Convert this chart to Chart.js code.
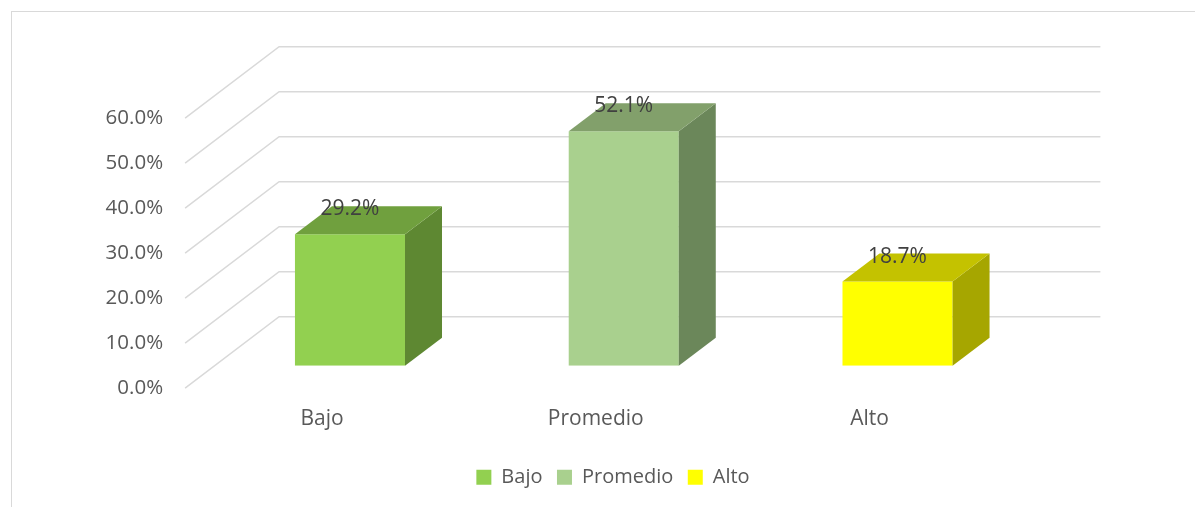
<!DOCTYPE html>
<html>
<head>
<meta charset="utf-8">
<script src="https://cdn.jsdelivr.net/npm/chart.js@4.4.1/dist/chart.umd.min.js"></script>
<style>
    html, body { margin: 0; padding: 0; background: #ffffff; }
    #wrap { position: relative; width: 1195px; height: 507px; }
</style>
</head>
<body>
<div id="wrap"><canvas id="chartNivel"></canvas></div>
<script>
const categories = ['Bajo', 'Promedio', 'Alto'];
const values = [29.2, 52.1, 18.7];
const yTicks = [0, 10, 20, 30, 40, 50, 60];

const frontColors = ['#92D050', '#A9D08E', '#FFFF00'];
const topColors = ['#70A03E', '#82A06B', '#C4C200'];
const sideColors = ['#5E8832', '#6B875A', '#A6A600'];

// depth offsets (px) relative to the plane of the bar fronts
const front = { dx: -28, dy: 22.5 };
const back = { dx: 66, dy: -49 };
const barDepth = { dx: 37, dy: -28 };

const textFont = "'Open Sans', 'DejaVu Sans', sans-serif";

const frame3d = {
    id: 'frame3d',
    beforeDraw(chart) {
        const ctx = chart.ctx;
        ctx.save();
        ctx.strokeStyle = '#D9D9D9';
        ctx.lineWidth = 1;
        ctx.strokeRect(11.5, 11.5, 1400, 700);
        ctx.restore();
    },
    beforeDatasetsDraw(chart) {
        const ctx = chart.ctx;
        const area = chart.chartArea;
        const y = chart.scales.y;
        ctx.save();
        ctx.strokeStyle = '#D9D9D9';
        ctx.lineWidth = 1.5;
        yTicks.forEach(v => {
            const py = y.getPixelForValue(v);
            ctx.beginPath();
            ctx.moveTo(area.left + front.dx, py + front.dy);
            ctx.lineTo(area.left + back.dx, py + back.dy);
            ctx.lineTo(area.right + back.dx, py + back.dy);
            ctx.stroke();
        });
        ctx.restore();
    },
    afterDatasetsDraw(chart) {
        const ctx = chart.ctx;
        const meta = chart.getDatasetMeta(0);
        ctx.save();
        meta.data.forEach((bar, i) => {
            const p = bar.getProps(['x', 'y', 'base', 'width'], true);
            const xl = p.x - p.width / 2;
            const xr = p.x + p.width / 2;
            const yt = p.y;
            const yb = p.base;

            ctx.fillStyle = sideColors[i];
            ctx.beginPath();
            ctx.moveTo(xr, yt);
            ctx.lineTo(xr + barDepth.dx, yt + barDepth.dy);
            ctx.lineTo(xr + barDepth.dx, yb + barDepth.dy);
            ctx.lineTo(xr, yb);
            ctx.closePath();
            ctx.fill();

            ctx.fillStyle = topColors[i];
            ctx.beginPath();
            ctx.moveTo(xl, yt);
            ctx.lineTo(xl + barDepth.dx, yt + barDepth.dy);
            ctx.lineTo(xr + barDepth.dx, yt + barDepth.dy);
            ctx.lineTo(xr, yt);
            ctx.closePath();
            ctx.fill();
        });

        ctx.fillStyle = '#404040';
        ctx.font = '21px ' + textFont;
        ctx.textAlign = 'center';
        ctx.textBaseline = 'middle';
        meta.data.forEach((bar, i) => {
            ctx.fillText(values[i].toFixed(1) + '%', bar.x, bar.y - 25);
        });
        ctx.restore();
    }
};

new Chart(document.getElementById('chartNivel'), {
    type: 'bar',
    data: {
        labels: categories,
        datasets: [{
            label: 'Nivel',
            data: values,
            backgroundColor: frontColors,
            borderWidth: 0,
            categoryPercentage: 1,
            barPercentage: 0.402
        }]
    },
    options: {
        responsive: true,
        maintainAspectRatio: false,
        animation: false,
        layout: {
            padding: { left: 95, right: 64, top: 95.7, bottom: 9.8 }
        },
        plugins: {
            legend: {
                position: 'bottom',
                onClick: () => {},
                labels: {
                    boxWidth: 15,
                    boxHeight: 15,
                    padding: 14.5,
                    color: '#595959',
                    font: { family: textFont, size: 20 },
                    generateLabels: () => categories.map((c, i) => ({
                        text: c,
                        fillStyle: frontColors[i],
                        strokeStyle: frontColors[i],
                        lineWidth: 0,
                        hidden: false,
                        index: i,
                        fontColor: '#595959'
                    }))
                }
            },
            tooltip: { enabled: false }
        },
        scales: {
            x: {
                grid: { display: false, drawTicks: false },
                border: { display: false },
                afterFit: scale => { scale.height = 87; },
                ticks: {
                    color: '#595959',
                    padding: 41,
                    labelOffset: -28,
                    font: { family: textFont, size: 21 }
                }
            },
            y: {
                min: 0,
                max: 60,
                grid: { display: false, drawTicks: false },
                border: { display: false },
                afterFit: scale => { scale.width = 118.1; },
                afterBuildTicks: scale => {
                    scale.ticks = yTicks.map(v => ({ value: v }));
                },
                ticks: {
                    color: '#595959',
                    padding: 50,
                    labelOffset: 22.5,
                    font: { family: textFont, size: 20.5 },
                    callback: v => v.toFixed(1) + '%'
                }
            },
            // empty right axis, only keeps the legend centred like the original
            yRight: {
                position: 'right',
                grid: { display: false, drawTicks: false },
                border: { display: false },
                ticks: { display: false },
                afterFit: scale => { scale.width = 96.6; }
            }
        }
    },
    plugins: [frame3d]
});
</script>
</body>
</html>
